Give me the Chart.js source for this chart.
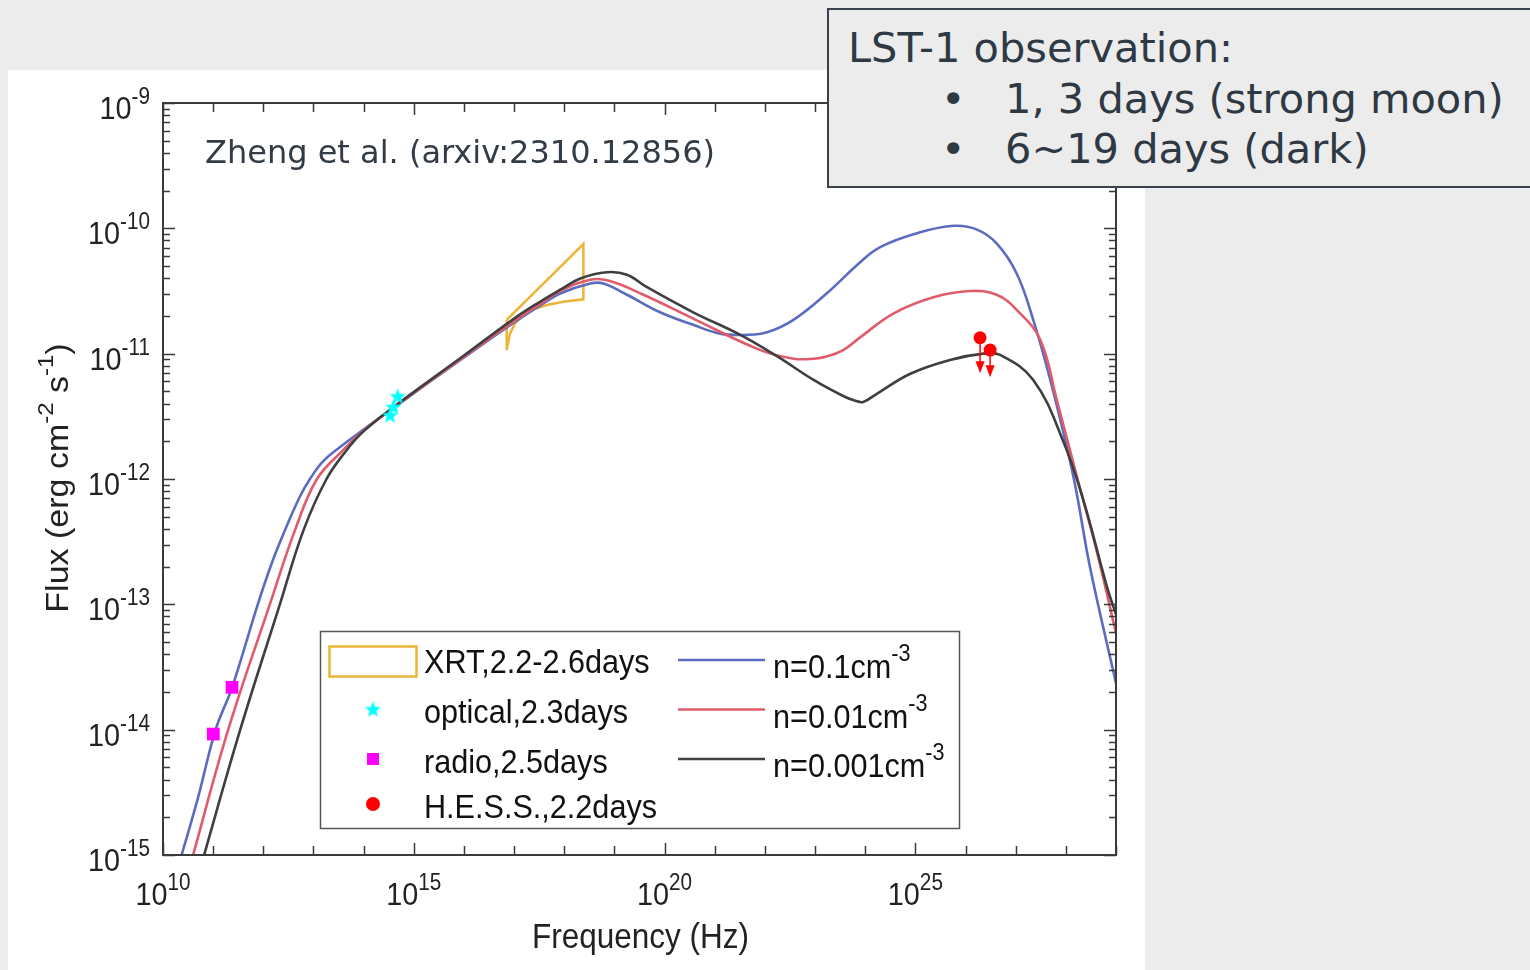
<!DOCTYPE html>
<html>
<head>
<meta charset="utf-8">
<title>Afterglow SED models</title>
<script src="https://cdn.jsdelivr.net/npm/chart.js@4.4.0/dist/chart.umd.min.js"></script>
<style>
  html, body { margin: 0; padding: 0; }
  body { width: 1530px; height: 970px; background: #ececec; position: relative; overflow: hidden; }
  #panel { position: absolute; left: 8px; top: 70px; width: 1137px; height: 900px; background: #fff; }
  #sed { position: absolute; left: 0; top: 0; }
  #note {
    position: absolute; left: 827px; top: 8px; width: 720px; height: 176px;
    border: 2px solid #39414c; background: #ececec; color: #2f3944;
    font-family: "DejaVu Sans", sans-serif; font-size: 41.5px; line-height: 40px;
  }
  #note .ln { position: absolute; white-space: nowrap; }
</style>
</head>
<body>
<div id="panel"></div>
<canvas id="sed" width="1530" height="970"></canvas>
<div id="note">
  <div class="ln" style="top:18px;left:19px">LST-1 observation:</div>
  <div class="ln" style="top:69px;left:112px">•</div>
  <div class="ln" style="top:69px;left:176px">1, 3 days (strong moon)</div>
  <div class="ln" style="top:119px;left:112px">•</div>
  <div class="ln" style="top:119px;left:176px">6~19 days (dark)</div>
</div>
<script>
// log10(frequency / Hz) and log10(flux / erg cm^-2 s^-1)

// model, n = 0.1 cm^-3
const logNuN1 = [10.0, 10.37, 10.70, 11.05, 11.38, 11.89, 12.17, 12.43, 12.73, 12.93,
  13.19, 13.53, 13.93, 14.5, 16.0, 17.0, 17.5, 17.92, 18.52, 18.78,
  19.25, 19.91, 20.57, 21.11, 21.64, 22.04, 22.57, 23.23, 23.90, 24.30,
  25.03, 25.76, 26.23, 26.62, 27.02, 27.35, 27.69, 28.15, 28.48, 29.0];
const logFluxN1 = [-15.48, -15.0, -14.54, -14.0, -13.66, -13.0, -12.67, -12.41, -12.14, -12.0,
  -11.86, -11.745, -11.625, -11.46, -11.03, -10.75, -10.62, -10.52, -10.44, -10.44,
  -10.53, -10.67, -10.77, -10.84, -10.85, -10.83, -10.73, -10.52, -10.27, -10.15,
  -10.04, -9.98, -10.01, -10.12, -10.36, -10.73, -11.21, -11.98, -12.70, -13.63];

// model, n = 0.01 cm^-3
const logNuN2 = [10.3, 10.60, 11.30, 12.13, 12.63, 13.07, 13.59, 13.95, 14.5, 16.0,
  17.0, 17.5, 17.92, 18.52, 18.91, 19.58, 20.57, 21.90, 22.57, 22.97,
  23.25, 23.57, 23.90, 24.56, 25.36, 26.09, 26.62, 27.02, 27.49, 27.82,
  28.22, 28.6, 29.0];
const logFluxN2 = [-15.44, -15.0, -14.0, -13.0, -12.41, -12.0, -11.77, -11.63, -11.46, -11.025,
  -10.74, -10.61, -10.50, -10.41, -10.42, -10.53, -10.72, -10.97, -11.04, -11.04,
  -11.02, -10.97, -10.87, -10.68, -10.55, -10.50, -10.53, -10.65, -10.89, -11.37,
  -11.98, -12.55, -13.23];

// model, n = 0.001 cm^-3
const logNuN3 = [10.5, 10.82, 11.54, 12.33, 12.80, 13.26, 13.66, 13.97, 14.5, 16.0,
  17.0, 17.5, 17.92, 18.32, 18.85, 19.25, 19.65, 20.57, 21.51, 22.24,
  22.97, 23.57, 23.80, 23.96, 24.23, 24.90, 25.69, 26.36, 26.69, 27.35,
  27.95, 28.35, 28.82, 29.0];
const logFluxN3 = [-15.46, -15.0, -14.0, -13.0, -12.41, -12.0, -11.77, -11.63, -11.455, -11.015,
  -10.72, -10.59, -10.49, -10.40, -10.35, -10.37, -10.47, -10.67, -10.85, -11.02,
  -11.21, -11.34, -11.375, -11.385, -11.32, -11.16, -11.05, -11.0, -11.01, -11.21,
  -11.70, -12.17, -12.86, -13.08];

// XRT butterfly outline (closed)
const xrtLogNu = [16.853, 18.381, 18.381, 17.982, 17.651, 17.384, 17.184, 17.019, 16.919, 16.853, 16.853];
const xrtLogFlux = [-10.731, -10.125, -10.566, -10.585, -10.612, -10.646, -10.692, -10.758, -10.838, -10.971, -10.731];

const opticalLogNu = [14.526, 14.592, 14.68];
const opticalLogFlux = [-11.489, -11.423, -11.338];

const radioLogNu = [11.003, 11.376];
const radioLogFlux = [-14.035, -13.662];

// H.E.S.S. upper limits: marker level and arrow tip
const hessLogNu = [26.29, 26.49];
const hessLogFlux = [-10.873, -10.971];
const hessLogTip = [-11.157, -11.189];

const xDecades = [10, 11, 12, 13, 14, 15, 16, 17, 18, 19, 20, 21, 22, 23, 24, 25, 26, 27, 28, 29];
const xLabelled = [10, 15, 20, 25];
const yDecades = [-15, -14, -13, -12, -11, -10, -9];

const legendLeft = ['XRT,2.2-2.6days', 'optical,2.3days', 'radio,2.5days', 'H.E.S.S.,2.2days'];
const legendRight = ['n=0.1cm', 'n=0.01cm', 'n=0.001cm'];

const COLORS = {
  n1: '#5b6cc0',
  n2: '#e15c6b',
  n3: '#3f3f3f',
  xrt: '#edb43a',
  optical: '#00ffff',
  radio: '#ff00ff',
  hess: '#ff0000',
  axis: '#3a3a3a'
};

const SANS = '"Liberation Sans", Arial, sans-serif';
const SQUEEZE = 0.9;

const toPoints = (xs, ys) => xs.map((v, i) => ({ x: Math.pow(10, v), y: Math.pow(10, ys[i]) }));

// filled five-pointed star used as a point style
function makeStar(r, color) {
  const c = document.createElement('canvas');
  c.width = c.height = Math.ceil(r * 2 + 2);
  const g = c.getContext('2d');
  const cx = c.width / 2, cy = c.height / 2 + r * 0.1;
  g.beginPath();
  for (let i = 0; i < 10; i++) {
    const rad = i % 2 === 0 ? r : r * 0.42;
    const a = -Math.PI / 2 + i * Math.PI / 5;
    g.lineTo(cx + rad * Math.cos(a), cy + rad * Math.sin(a));
  }
  g.closePath();
  g.fillStyle = color;
  g.fill();
  return c;
}
const starImg = makeStar(8.5, COLORS.optical);

// text with superscripts: parts = [[text, isSup], ...]
function drawRich(ctx, parts, x, y, o) {
  const sx = o.sx ?? SQUEEZE, sy = o.sy ?? 1;
  let total = 0;
  const widths = parts.map(([t, sup]) => {
    ctx.font = `${sup ? o.sup : o.size}px ${SANS}`;
    const w = ctx.measureText(t).width * sx;
    total += w;
    return w;
  });
  let cx = o.align === 'right' ? x - total : o.align === 'center' ? x - total / 2 : x;
  parts.forEach(([t, sup], i) => {
    ctx.font = `${sup ? o.sup : o.size}px ${SANS}`;
    ctx.save();
    ctx.translate(cx, y - (sup ? o.raise : 0));
    ctx.scale(sx, sy);
    ctx.fillText(t, 0, 0);
    ctx.restore();
    cx += widths[i];
  });
}

const framePlugin = {
  id: 'frame',
  afterDatasetsDraw(chart) {
    const { ctx, chartArea: a, scales: { x, y } } = chart;
    ctx.save();
    ctx.strokeStyle = COLORS.axis;
    ctx.lineWidth = 1.5;
    ctx.beginPath();
    // x ticks, bottom and top, pointing inward
    xDecades.forEach(e => {
      const px = Math.round(x.getPixelForValue(Math.pow(10, e))) + 0.5;
      const len = xLabelled.includes(e) ? 12 : 9;
      ctx.moveTo(px, a.bottom); ctx.lineTo(px, a.bottom - len);
      ctx.moveTo(px, a.top); ctx.lineTo(px, a.top + len);
    });
    // y ticks: majors at decades, minors at 2..9
    yDecades.forEach(d => {
      const py = Math.round(y.getPixelForValue(Math.pow(10, d))) + 0.5;
      ctx.moveTo(a.left, py); ctx.lineTo(a.left + 12, py);
      ctx.moveTo(a.right, py); ctx.lineTo(a.right - 12, py);
      if (d === -9) return;
      for (let m = 2; m <= 9; m++) {
        const pm = Math.round(y.getPixelForValue(m * Math.pow(10, d))) + 0.5;
        ctx.moveTo(a.left, pm); ctx.lineTo(a.left + 7, pm);
        ctx.moveTo(a.right, pm); ctx.lineTo(a.right - 7, pm);
      }
    });
    ctx.stroke();
    ctx.lineWidth = 2;
    ctx.strokeRect(a.left, a.top, a.right - a.left, a.bottom - a.top);

    // H.E.S.S. upper-limit arrows
    ctx.strokeStyle = COLORS.hess;
    ctx.fillStyle = COLORS.hess;
    ctx.lineWidth = 1.5;
    hessLogNu.forEach((v, i) => {
      const px = x.getPixelForValue(Math.pow(10, v));
      const p0 = y.getPixelForValue(Math.pow(10, hessLogFlux[i]));
      const p1 = y.getPixelForValue(Math.pow(10, hessLogTip[i]));
      ctx.beginPath();
      ctx.moveTo(px, p0); ctx.lineTo(px, p1 - 6);
      ctx.stroke();
      ctx.beginPath();
      ctx.moveTo(px - 4.5, p1 - 12); ctx.lineTo(px + 4.5, p1 - 12); ctx.lineTo(px, p1);
      ctx.closePath();
      ctx.fill();
    });

    // tick labels
    ctx.fillStyle = '#222';
    ctx.textBaseline = 'alphabetic';
    ctx.textAlign = 'left';
    yDecades.forEach(d => {
      const py = y.getPixelForValue(Math.pow(10, d));
      drawRich(ctx, [['10', false], [String(d), true]], 150, py + 16, { size: 32, sup: 23, raise: 15, align: 'right' });
    });
    xLabelled.forEach(e => {
      const px = x.getPixelForValue(Math.pow(10, e));
      drawRich(ctx, [['10', false], [String(e), true]], px, a.bottom + 50, { size: 32, sup: 23, raise: 15, align: 'center' });
    });

    // axis titles
    drawRich(ctx, [['Frequency (Hz)', false]], (a.left + a.right) / 2 + 1, 948, { size: 35, sup: 25, raise: 0, align: 'center' });
    ctx.save();
    ctx.translate(68, 478);
    ctx.rotate(-Math.PI / 2);
    drawRich(ctx, [['Flux (erg cm', false], ['-2', true], [' s', false], ['-1', true], [')', false]], 0, 0,
      { size: 34, sup: 24, raise: 15, align: 'center', sx: 1, sy: 0.92 });
    ctx.restore();

    // reference note inside the axes
    ctx.fillStyle = '#333c46';
    ctx.font = '32px "DejaVu Sans", sans-serif';
    ctx.fillText('Zheng et al. (arxiv:2310.12856)', 205, 163);
    ctx.restore();
  }
};

const legendPlugin = {
  id: 'sedLegend',
  afterDraw(chart) {
    const { ctx } = chart;
    const ds = chart.data.datasets;
    const byKey = k => ds.find(d => d.key === k);
    ctx.save();
    ctx.fillStyle = '#fff';
    ctx.fillRect(320, 631, 639, 197);
    ctx.strokeStyle = '#555';
    ctx.lineWidth = 1.5;
    ctx.strokeRect(320.5, 631.5, 639, 197);

    // left column symbols
    ctx.strokeStyle = byKey('xrt').borderColor;
    ctx.lineWidth = 2.5;
    ctx.strokeRect(329.5, 646.5, 87, 30);
    ctx.drawImage(starImg, 373 - starImg.width / 2, 709 - starImg.height / 2);
    ctx.fillStyle = byKey('radio').pointBackgroundColor;
    ctx.fillRect(367, 753, 12, 12);
    ctx.fillStyle = byKey('hess').pointBackgroundColor;
    ctx.beginPath();
    ctx.arc(373, 804, 7, 0, Math.PI * 2);
    ctx.fill();

    // right column line samples
    ['n1', 'n2', 'n3'].forEach((k, i) => {
      const yy = 660 + i * 49.5;
      ctx.strokeStyle = byKey(k).borderColor;
      ctx.lineWidth = 2.5;
      ctx.beginPath();
      ctx.moveTo(678, yy); ctx.lineTo(765, yy);
      ctx.stroke();
    });

    ctx.fillStyle = '#111';
    ctx.textBaseline = 'alphabetic';
    ctx.textAlign = 'left';
    const rowsLeft = [673, 723, 773, 818];
    legendLeft.forEach((t, i) => {
      drawRich(ctx, [[t, false]], 424, rowsLeft[i], { size: 34, sup: 24, raise: 0, align: 'left' });
    });
    legendRight.forEach((t, i) => {
      drawRich(ctx, [[t, false], ['-3', true]], 773, 678 + i * 49.5, { size: 34, sup: 24, raise: 17, align: 'left' });
    });
    ctx.restore();
  }
};

const curve = (key, xs, ys, color) => ({
  key,
  data: toPoints(xs, ys),
  showLine: true,
  borderColor: color,
  borderWidth: 2.6,
  pointRadius: 0,
  tension: 0.4,
  fill: false
});

new Chart(document.getElementById('sed'), {
  type: 'scatter',
  data: {
    datasets: [
      {
        key: 'hess',
        data: toPoints(hessLogNu, hessLogFlux),
        pointStyle: 'circle',
        pointRadius: 6.5,
        pointBackgroundColor: COLORS.hess,
        pointBorderWidth: 0
      },
      {
        key: 'radio',
        data: toPoints(radioLogNu, radioLogFlux),
        pointStyle: 'rect',
        pointRadius: 9,
        pointBackgroundColor: COLORS.radio,
        pointBorderWidth: 0
      },
      {
        key: 'optical',
        data: toPoints(opticalLogNu, opticalLogFlux),
        pointStyle: starImg,
        pointRadius: 8
      },
      curve('n3', logNuN3, logFluxN3, COLORS.n3),
      curve('n2', logNuN2, logFluxN2, COLORS.n2),
      curve('n1', logNuN1, logFluxN1, COLORS.n1),
      {
        key: 'xrt',
        data: toPoints(xrtLogNu, xrtLogFlux),
        showLine: true,
        borderColor: COLORS.xrt,
        borderWidth: 2.5,
        pointRadius: 0,
        tension: 0
      }
    ]
  },
  options: {
    responsive: false,
    animation: false,
    devicePixelRatio: 1,
    layout: { padding: { left: 163, right: 414, top: 103, bottom: 115 } },
    scales: {
      x: { type: 'logarithmic', min: 1e10, max: 1e29, display: false },
      y: { type: 'logarithmic', min: 1e-15, max: 1e-9, display: false }
    },
    plugins: {
      legend: { display: false },
      tooltip: { enabled: false }
    }
  },
  plugins: [framePlugin, legendPlugin]
});
</script>
</body>
</html>
